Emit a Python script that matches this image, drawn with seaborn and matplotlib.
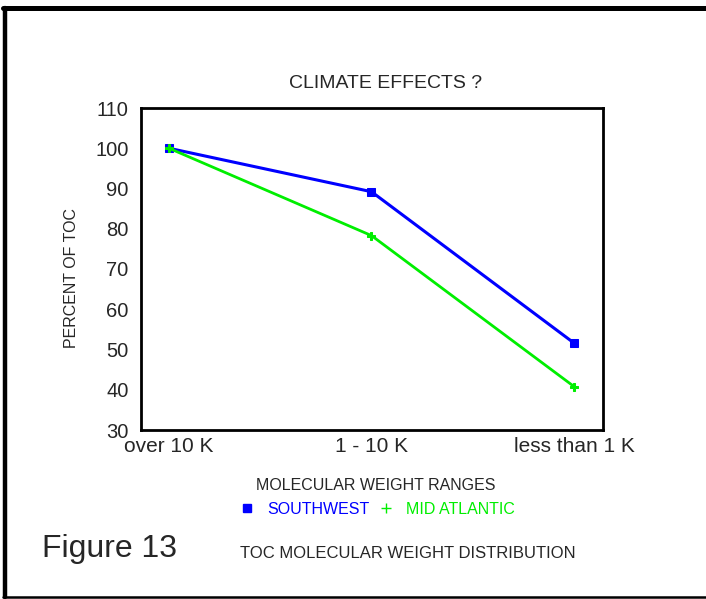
import numpy as np
import matplotlib
matplotlib.use('Agg')
import matplotlib.pyplot as plt
from matplotlib.lines import Line2D
import pandas as pd
import seaborn as sns

# data
categories = ['over 10 K', '1 - 10 K', 'less than 1 K']
southwest = [100.0, 89.2, 51.6]
mid_atlantic = [100.0, 78.3, 40.8]
series_names = ['SOUTHWEST', 'MID ATLANTIC']
series_colors = ['#0000ff', '#00ee00']
y_ticks = [30, 40, 50, 60, 70, 80, 90, 100, 110]

df = pd.DataFrame({
    'pos': list(range(len(categories))) * 2,
    'value': southwest + mid_atlantic,
    'series': [series_names[0]] * 3 + [series_names[1]] * 3,
})

sns.set_style('white')
plt.rcParams['font.family'] = ['Liberation Sans', 'DejaVu Sans']

W, H = 706, 599
fig = plt.figure(figsize=(W / 100, H / 100), dpi=100)
ax = fig.add_axes([141 / W, 1 - 430 / H, (603 - 141) / W, (430 - 108) / H])

sns.lineplot(data=df[df.series == series_names[0]], x='pos', y='value', ax=ax,
             color=series_colors[0], linewidth=2.2, marker='s', markersize=6,
             markeredgecolor=series_colors[0], legend=False)
sns.lineplot(data=df[df.series == series_names[1]], x='pos', y='value', ax=ax,
             color=series_colors[1], linewidth=2.0, marker='P', markersize=6,
             markeredgecolor=series_colors[1], legend=False)

ax.set_xlim(-0.138, 2.143)
ax.set_ylim(30, 110)
ax.set_xticks(range(len(categories)))
ax.set_xticklabels(categories)
ax.set_yticks(y_ticks)
ax.set_xlabel('')
ax.set_ylabel('')
ax.tick_params(axis='x', direction='in', length=6, width=1.5, labelsize=15, pad=5)
ax.tick_params(axis='y', direction='out', length=7, width=1.5, labelsize=14.5, pad=2)
for s in ax.spines.values():
    s.set_visible(True)
    s.set_color('black')
    s.set_linewidth(2)

fig.text(386 / W, 1 - 83 / H, 'CLIMATE EFFECTS ?', ha='center', va='center', fontsize=14)
fig.text(72 / W, 1 - 278 / H, 'PERCENT OF TOC', rotation=90, ha='center', va='center', fontsize=11.5)
fig.text(376 / W, 1 - 485 / H, 'MOLECULAR WEIGHT RANGES', ha='center', va='center', fontsize=11.5)

handles = [Line2D([], [], color=series_colors[0], marker='s', linestyle='none', markersize=6),
           Line2D([], [], color=series_colors[1], marker='+', linestyle='none', markersize=7)]
fig.legend(handles, series_names, loc='center', bbox_to_anchor=(377 / W, 1 - 509 / H),
           ncol=2, frameon=False, fontsize=11.5, labelcolor=series_colors,
           handletextpad=0.8, columnspacing=0.5, handlelength=1.0)

fig.text(42 / W, 1 - 549 / H, 'Figure 13', ha='left', va='center', fontsize=23)
fig.text(240 / W, 1 - 553 / H, 'TOC MOLECULAR WEIGHT DISTRIBUTION', ha='left', va='center', fontsize=12)

# page frame
fig.add_artist(Line2D([5 / W, 5 / W], [1 - 7.5 / H, 1 - 597 / H], color='black', linewidth=3.2,
                      transform=fig.transFigure))
fig.add_artist(Line2D([3 / W, 1], [1 - 7.5 / H, 1 - 7.5 / H], color='black', linewidth=3.6,
                      transform=fig.transFigure))
fig.add_artist(Line2D([3 / W, 1], [1 - 597 / H, 1 - 597 / H], color='black', linewidth=1.8,
                      transform=fig.transFigure))

fig.savefig('out.png', dpi=100)
